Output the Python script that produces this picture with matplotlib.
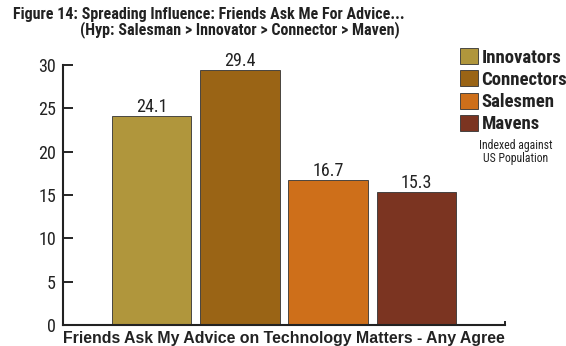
import matplotlib
matplotlib.use('Agg')
import matplotlib.pyplot as plt

# Data
groups = ['Innovators', 'Connectors', 'Salesmen', 'Mavens']
values = [24.1, 29.4, 16.7, 15.3]
colors = ['#B0963C', '#9A6415', '#CE6F1A', '#7B3421']
yticks = [0, 5, 10, 15, 20, 25, 30]

narrow = ['Roboto Condensed', 'DejaVu Sans']
wide = ['Liberation Sans', 'DejaVu Sans']
ink = '#222222'

fig = plt.figure(figsize=(5.66, 3.46), dpi=100)
ax = fig.add_axes([63/566, 1 - 325/346, 442/566, 260/346])

x = list(range(len(groups)))
bars = ax.bar(x, values, width=0.9, color=colors, edgecolor='#333333', linewidth=0.6)
for xi, v in zip(x, values):
    ax.text(xi, v + 0.05, '{:.1f}'.format(v), ha='center', va='bottom',
            fontsize=13, family=narrow, color=ink)

ax.set_xlim(-1, 4)
ax.set_ylim(0, 30)
ax.set_yticks(yticks)
ax.set_yticklabels([str(t) for t in yticks], family=narrow, fontsize=13, color=ink)
ax.tick_params(axis='y', direction='in', length=7, width=1.2, pad=5)
ax.set_xticks([4])
ax.set_xticklabels([''])
ax.tick_params(axis='x', direction='in', length=3, width=1.2)
for s in ['top', 'right']:
    ax.spines[s].set_visible(False)
for s in ['left', 'bottom']:
    ax.spines[s].set_linewidth(1.5)
    ax.spines[s].set_color(ink)

ax.set_xlabel('Friends Ask My Advice on Technology Matters - Any Agree',
              family=wide, fontweight='bold', fontsize=11.4, color=ink, labelpad=1)

# Title lines
fig.text(13/566, 1 - 14/346, 'Figure 14: Spreading Influence: Friends Ask Me For Advice...',
         family=narrow, fontweight='bold', fontsize=11.5, va='center', ha='left', color=ink)
fig.text(80/566, 1 - 30/346, '(Hyp: Salesman > Innovator > Connector > Maven)',
         family=narrow, fontweight='bold', fontsize=11.5, va='center', ha='left', color=ink)

# Legend
leg = fig.legend(bars, groups, loc='upper left', bbox_to_anchor=(460/566, 1 - 48/346),
                 frameon=False, prop={'family': narrow, 'weight': 'bold', 'size': 13.5},
                 handlelength=0.95, handleheight=0.95, handletextpad=0.2, labelspacing=0.2,
                 borderaxespad=0, borderpad=0)
for t in leg.get_texts():
    t.set_color(ink)
fig.text(516/566, 1 - 152/346, 'Indexed against\nUS Population', family=narrow,
         fontsize=8.5, ha='center', va='center', color=ink, linespacing=1.0)

fig.savefig('out.png', dpi=100)
